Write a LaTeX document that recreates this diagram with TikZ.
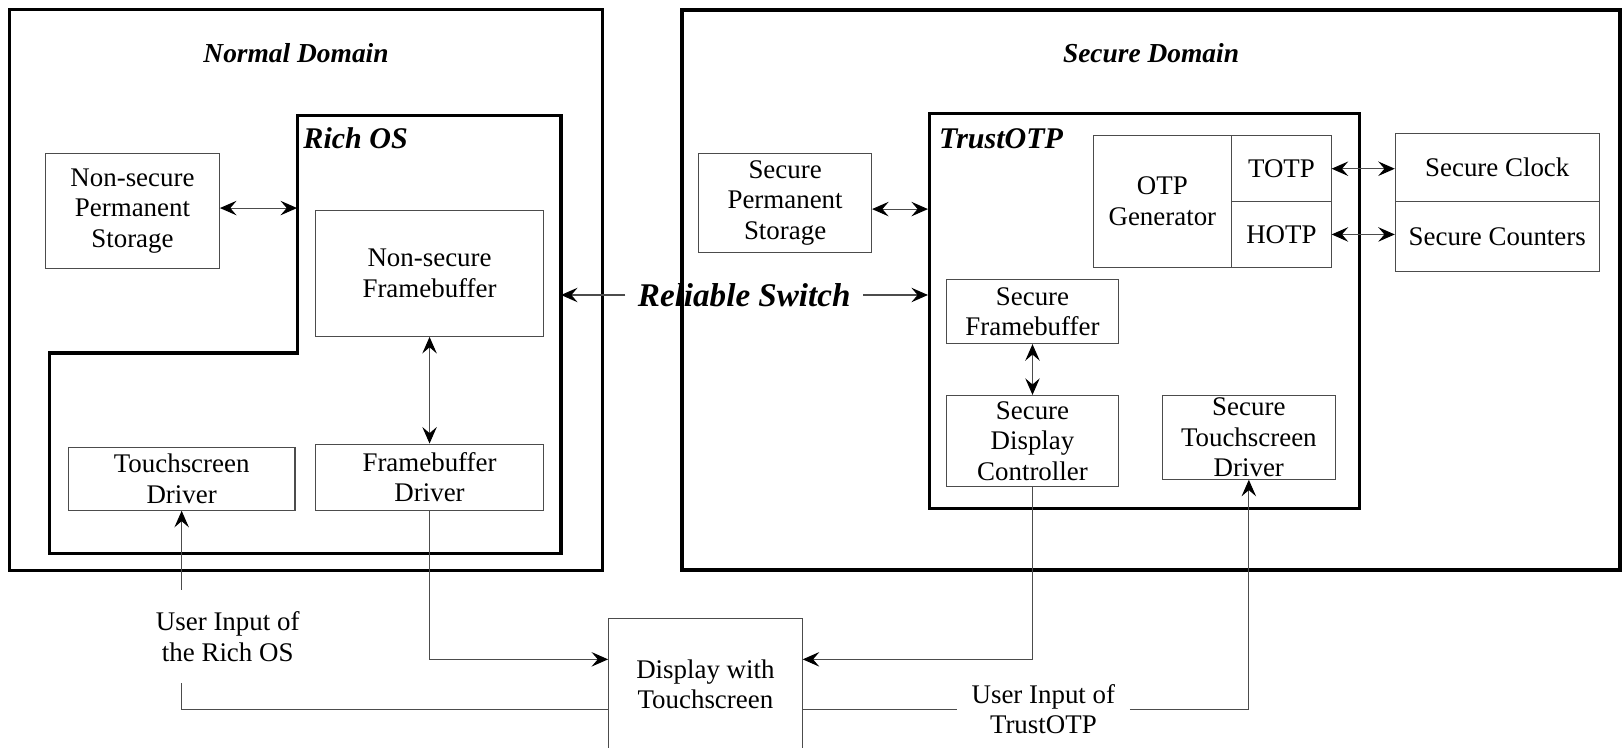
\documentclass[tikz,border=0pt]{standalone}
\usepackage{fontspec}
\setmainfont{Liberation Serif}
\usetikzlibrary{arrows.meta,calc}
\begin{document}
\begin{tikzpicture}[x=1pt,y=-1pt,
 txt/.style={font=\fontsize{26}{29.5}\selectfont, align=center, inner sep=0pt},
 box/.style={txt, draw=black!70, line width=1pt, fill=white},
 domtitle/.style={font=\fontsize{26.5}{30}\selectfont\bfseries\itshape, inner sep=0pt},
 bigtitle/.style={font=\fontsize{29}{33}\selectfont\bfseries\itshape, inner sep=0pt},
 domainbox/.style={draw=black, line width=3pt, inner sep=0pt},
 conn/.style={draw=black!70, line width=1pt},
 tipshape/.tip={Stealth[length=16pt,width=14pt,inset=6pt,color=black]},
 arr/.style={conn, -tipshape},
 darr/.style={conn, tipshape-tipshape},
]
\useasboundingbox (0,0) rectangle (1568,722);

% Normal domain
\node[domainbox, minimum width=573pt, minimum height=542pt] (nd) at (296,280.5) {};
\node[domtitle] (ndt) at (286,51) {Normal Domain};
\draw[line width=3pt, line join=miter] (287,112) -- (542,112) -- (542,535) -- (48,535) -- (48,341) -- (287,341) -- cycle;
\coordinate (rosE) at (542,285);
\coordinate (rosW) at (287,201);
\node[bigtitle, anchor=west] (rost) at (293,134) {Rich OS};

\node[box, minimum width=168pt, minimum height=111pt] (nsps) at (128,203.5) {Non-secure\\Permanent\\Storage};
\node[box, minimum width=220pt, minimum height=122pt] (nsfb) at (415,264) {Non-secure\\Framebuffer};
\node[box, minimum width=219pt, minimum height=61pt] (tsd) at (175.5,462.5) {Touchscreen\\Driver};
\node[box, minimum width=220pt, minimum height=64pt] (fbd) at (415,461) {Framebuffer\\Driver};

% Secure domain
\node[domainbox, line width=4pt, minimum width=906pt, minimum height=541pt] (sd) at (1112,280.5) {};
\node[domtitle] (sdt) at (1112,51) {Secure Domain};
\node[domainbox, minimum width=415pt, minimum height=381pt] (trust) at (1105.5,300.5) {};
\node[bigtitle, anchor=west] (trustt) at (907,134) {TrustOTP};

\node[box, minimum width=167pt, minimum height=96pt] (sps) at (758.5,196) {Secure\\Permanent\\Storage};
\node[box, minimum width=134pt, minimum height=127pt] (otp) at (1123,194.5) {OTP\\Generator};
\node[box, minimum width=96pt, minimum height=64pt] (totp) at (1238,163) {TOTP};
\node[box, minimum width=96pt, minimum height=63pt] (hotp) at (1238,226.5) {HOTP};
\node[box, minimum width=197pt, minimum height=66pt] (sclk) at (1446.5,162) {Secure Clock};
\node[box, minimum width=197pt, minimum height=67pt] (scnt) at (1446.5,228.5) {Secure Counters};
\node[box, minimum width=167pt, minimum height=62pt] (sfb) at (997.5,301) {Secure\\Framebuffer};
\node[box, minimum width=167pt, minimum height=88pt] (sdc) at (997.5,426) {Secure\\Display\\Controller};
\node[box, minimum width=167pt, minimum height=81pt] (std) at (1206.5,422.5) {Secure\\Touchscreen\\Driver};

% Display
\node[box, minimum width=187pt, minimum height=126pt] (disp) at (681.5,661) {Display with\\Touchscreen};
\coordinate (dwh) at ([yshift=24pt]disp.west);
\coordinate (dwl) at ([yshift=-24pt]disp.west);
\coordinate (deh) at ([yshift=24pt]disp.east);
\coordinate (del) at ([yshift=-24pt]disp.east);

% Reliable switch
\node[font=\fontsize{32}{36}\selectfont\bfseries\itshape, inner xsep=12pt, inner ysep=0pt] (rs) at (719,285) {Reliable Switch};
\draw[arr] (rs.west) -- (rosE);
\draw[arr] (rs.east) -- (rs.east -| trust.west);

% user input labels
\node[txt] (uir) at (220,615) {User Input of\\the Rich OS};
\node[txt, inner xsep=14pt] (uit) at (1008,685) {User Input of\\TrustOTP};
\coordinate (u1) at (175.5,570);
\coordinate (u2) at (175.5,660);

% connectors
\draw[darr] (nsps.east |- rosW) -- (rosW);
\draw[darr] (nsfb.south) -- (fbd.north);
\draw[darr] ([yshift=-6pt]sps.east) -- ([yshift=-6pt]sps.east -| trust.west);
\draw[darr] (totp.east) -- (totp.east -| sclk.west);
\draw[darr] (hotp.east) -- (hotp.east -| scnt.west);
\draw[darr] (sfb.south) -- (sdc.north);
\draw[arr] (fbd.south) |- (dwh);
\draw[arr] (sdc.south) |- (deh);
\draw[arr] (u1) -- (tsd.south);
\draw[conn] (u2) |- (dwl);
\draw[conn] (del) -- (uit.west |- del);
\draw[arr] (uit.east |- del) -| (std.south);
\end{tikzpicture}
\end{document}
